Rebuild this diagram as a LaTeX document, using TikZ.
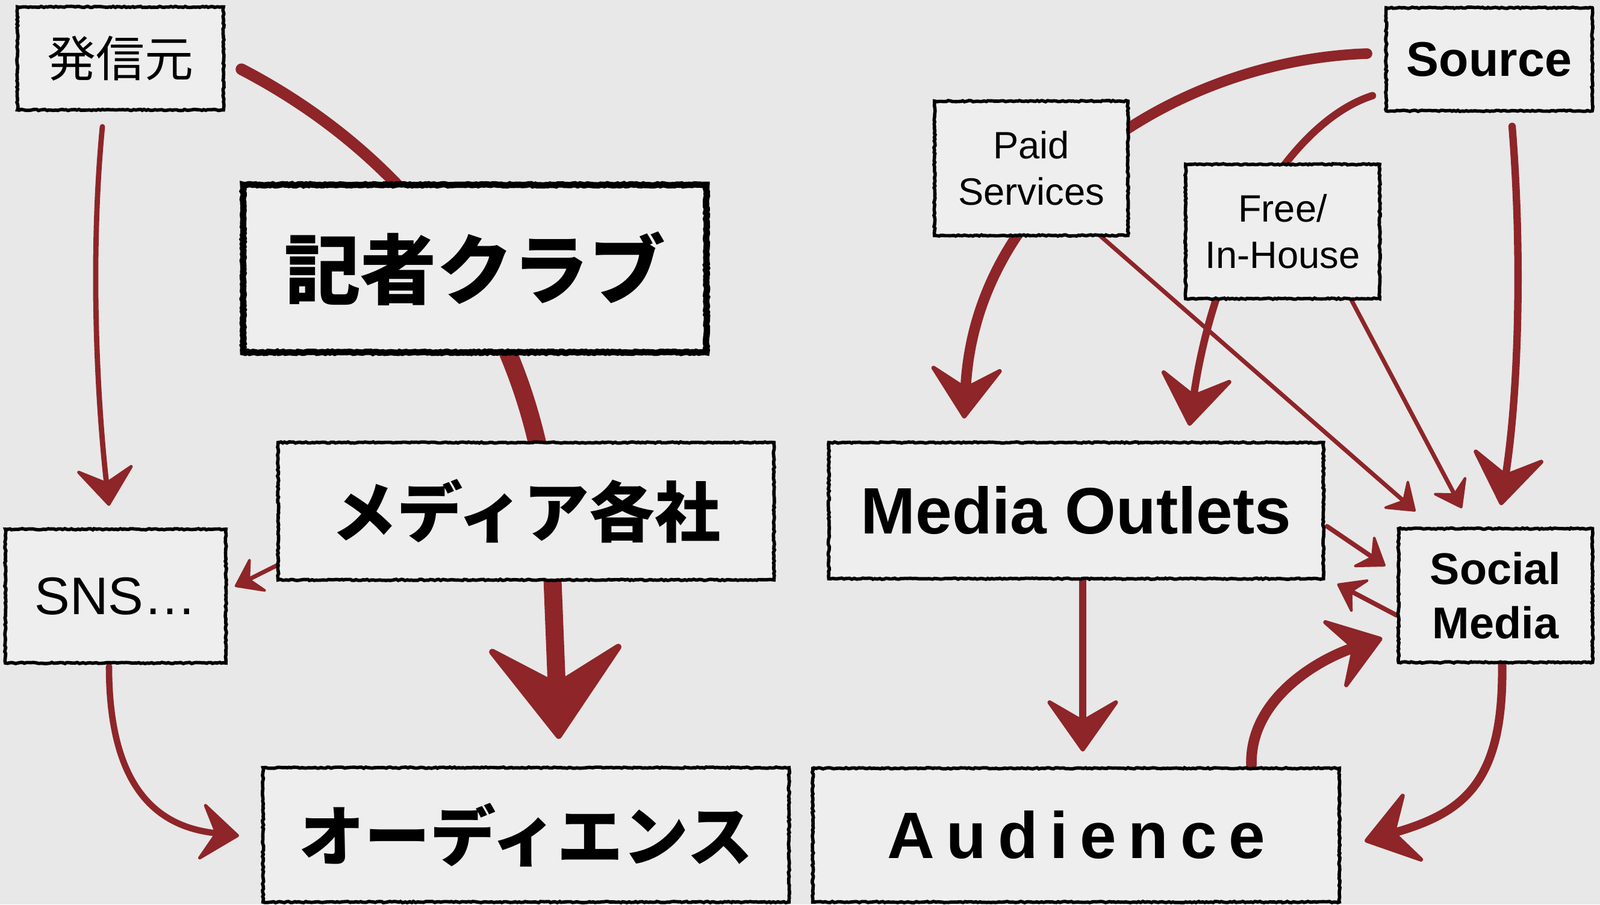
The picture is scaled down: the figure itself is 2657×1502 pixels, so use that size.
\documentclass[tikz,border=0pt]{standalone}
\usepackage{fontspec}
\setmainfont{Liberation Sans}
\newfontfamily\jpfont{Noto Sans CJK JP}
\newfontfamily\audfont{Liberation Sans}[LetterSpace=18]
\usetikzlibrary{arrows.meta,decorations.pathmorphing,calc}
\definecolor{arrowred}{RGB}{142,37,40}
\definecolor{bgcol}{RGB}{232,232,232}
\definecolor{boxfill}{RGB}{238,238,238}
\pgfdeclarelayer{back}
\pgfdeclarelayer{arl}
\pgfsetlayers{back,arl,main}
\begin{document}
\begin{tikzpicture}[x=0.01cm,y=-0.01cm,
  box/.style={draw=black,fill=boxfill,line width=1.6pt,inner sep=0pt,align=center,
    decorate,decoration={random steps,segment length=1pt,amplitude=0.28pt}},
  conn/.style={draw=arrowred,line cap=round,line join=round},
  hs/.style={-{Stealth[length=14pt,width=20pt,inset=5.5pt,line width=1.2pt,round]}},
  hn/.style={-{Stealth[length=20pt,width=30pt,inset=8pt,line width=1.5pt,round]}},
  hm/.style={-{Stealth[length=27pt,width=38pt,inset=11pt,line width=2pt,round]}},
  hb/.style={-{Stealth[length=48pt,width=70pt,inset=20pt,line width=3pt,round]}},
  jpl/.style={font=\jpfont\fontsize{23}{27}\selectfont},
  jpb/.style={font=\jpfont\bfseries\fontsize{31}{36}\selectfont},
  enb/.style={font=\bfseries\fontsize{31}{36}\selectfont},
  ens/.style={font=\fontsize{18}{21.8}\selectfont}
]
\begin{pgfonlayer}{back}
  \fill[bgcol] (0,0) rectangle (2657,1502);
\end{pgfonlayer}
\useasboundingbox (0,0) rectangle (2657,1502);

% left side
\node[box,jpl,minimum width=3.42cm,minimum height=1.71cm] (hassin) at (200,97) {発信元};
\node[box,line width=3pt,minimum width=7.69cm,minimum height=2.78cm,
      font=\jpfont\bfseries\fontsize{36}{40}\selectfont] (kisha) at (788.5,446) {記者クラブ};
\node[box,jpb,minimum width=8.23cm,minimum height=2.28cm] (mj) at (873.5,849) {メディア各社};
\node[box,font=\fontsize{25}{30}\selectfont,minimum width=3.66cm,minimum height=2.22cm] (sns) at (192,990) {SNS…};
\node[box,jpb,minimum width=8.73cm,minimum height=2.23cm] (ajp) at (873.5,1386.5) {オーディエンス};
\coordinate (kmid) at (779.1,460.6);
\coordinate (mjmid) at (915,900);

% right side
\node[box,ens,minimum width=3.21cm,minimum height=2.23cm] (paid) at (1712.5,279.5) {Paid\\Services};
\node[box,ens,minimum width=3.22cm,minimum height=2.23cm] (free) at (2130,384.5) {Free/\\In-House};
\node[box,font=\bfseries\fontsize{23}{27}\selectfont,minimum width=3.42cm,minimum height=1.71cm] (source) at (2473,98.5) {Source};
\node[box,enb,minimum width=8.21cm,minimum height=2.26cm] (mo) at (1787,848) {Media Outlets};
\node[box,font=\bfseries\fontsize{21}{25.6}\selectfont,minimum width=3.22cm,minimum height=2.22cm] (social) at (2483.5,989) {Social\\Media};
\node[box,font=\audfont\bfseries\fontsize{31}{36}\selectfont,minimum width=8.74cm,minimum height=2.22cm] (aud) at (1787,1387) {Audience};

\begin{pgfonlayer}{arl}
  % left side connectors
  \draw[conn,line width=2.5pt,hn] ([shift={(-30,25)}]hassin.south)
      .. controls (150,420) and (160,650) .. ([shift={(-11,-36)}]sns.north);
  \draw[conn,line width=5.5pt] ([shift={(27,18)}]hassin.east)
      .. controls (569,202.5) and (694.5,323.75) .. (kmid);
  \draw[conn,line width=8.5pt] (kmid) .. controls (863.75,597.5) and (907.5,750) .. (mjmid);
  \draw[conn,line width=8.5pt,hb] (mjmid) -- ([shift={(54.5,-45)}]ajp.north);
  \draw[conn,line width=2pt,hs] ([shift={(3,-28)}]mj.south west) -- ([shift={(12,-16)}]sns.east);
  \draw[conn,line width=3pt,hn] ([shift={(-11,3)}]sns.south)
      .. controls (181,1330) and (280,1375) .. ([shift={(-37,1.5)}]ajp.west);

  % right side connectors
  \draw[conn,line width=5pt,hm] ([shift={(-29,-9.5)}]source.west)
      .. controls (1950,100) and (1620,320) .. ([shift={(-186,-37)}]mo.north);
  \draw[conn,line width=3.5pt,hm] ([shift={(-20,-28)}]source.south west)
      .. controls (2150,200) and (2020,400) .. ([shift={(188,-25)}]mo.north);
  \draw[conn,line width=2pt,hs] ([shift={(-52,-5)}]paid.south east) -- ([shift={(31,-26)}]social.north west);
  \draw[conn,line width=2pt,hs] ([shift={(-51,-3)}]free.south east) -- ([shift={(-56,-31)}]social.north);
  \draw[conn,line width=3.5pt,hm] ([shift={(38,23)}]source.south)
      .. controls (2528,420) and (2522,650) .. ([shift={(9,-36)}]social.north);
  \draw[conn,line width=2.2pt,hs] ([shift={(3,26)}]mo.east) -- ([shift={(-19,-49)}]social.west);
  \draw[conn,line width=2.2pt,hs] ([shift={(0,33)}]social.west) -- ([shift={(20,6)}]mo.south east);
  \draw[conn,line width=3.5pt,hm] ([shift={(11,0)}]mo.south) -- ([shift={(11,-25)}]aud.north);
  \draw[conn,line width=5pt,hm] ([shift={(-149,-2)}]aud.north east)
      .. controls (2075,1160) and (2190,1095) .. ([shift={(-24,-43)}]social.south west);
  \draw[conn,line width=4pt,hm] ([shift={(11,2)}]social.south)
      .. controls (2497,1300) and (2430,1350) .. ([shift={(39,10)}]aud.east);
\end{pgfonlayer}
\end{tikzpicture}
\end{document}
